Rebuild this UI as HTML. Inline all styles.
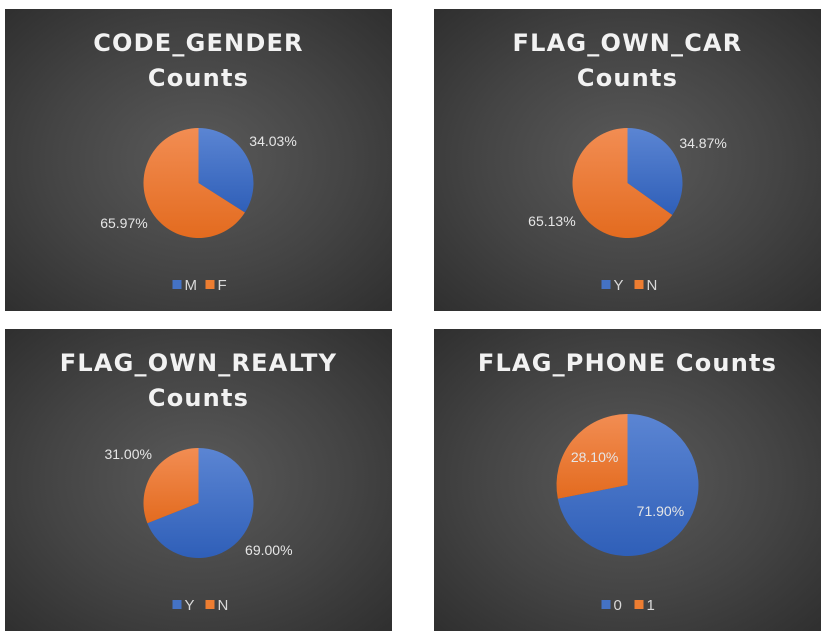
<!DOCTYPE html>
<html><head><meta charset="utf-8">
<style>
body{margin:0;width:826px;height:636px;background:#fff;position:relative;overflow:hidden;font-family:"Liberation Sans",sans-serif}
.panel{position:absolute;width:387px;height:302px;background:radial-gradient(ellipse at 50% 50%,#5a5a5a 0%,#444 55%,#2f2f2f 100%)}
svg{position:absolute;left:0;top:0}
</style></head><body>
<div class="panel" style="left:5px;top:9px"></div>
<div class="panel" style="left:434px;top:9px"></div>
<div class="panel" style="left:5px;top:329px"></div>
<div class="panel" style="left:434px;top:329px"></div>
<svg id="s" width="826" height="636">
<defs>
<linearGradient id="gb" x1="0" y1="0" x2="0" y2="1"><stop offset="0" stop-color="#5b85d3"/><stop offset="1" stop-color="#2f5fb8"/></linearGradient>
<linearGradient id="go" x1="0" y1="0" x2="0" y2="1"><stop offset="0" stop-color="#f28d53"/><stop offset="1" stop-color="#e36b1f"/></linearGradient>
</defs>
</svg>
<script>
const titles=[["CODE_GENDER","Counts"],["FLAG_OWN_CAR","Counts"],["FLAG_OWN_REALTY","Counts"],["FLAG_PHONE Counts"]];
const categories=[["M","F"],["Y","N"],["Y","N"],["0","1"]];
const values=[[34.03,65.97],[34.87,65.13],[69.00,31.00],[71.90,28.10]];
const valueLabels=[["34.03%","65.97%"],["34.87%","65.13%"],["69.00%","31.00%"],["71.90%","28.10%"]];
const layout=[{x:5,y:9,r:55,cy:174,inside:false},{x:434,y:9,r:55,cy:174,inside:false},{x:5,y:329,r:55,cy:174,inside:false},{x:434,y:329,r:71,cy:156,inside:true}];
const fills=["url(#gb)","url(#go)"],legCols=["#4472c4","#ed7d31"];
const s=document.getElementById('s'),NS="http://www.w3.org/2000/svg";
function mk(t,a,p){const e=document.createElementNS(NS,t);for(const k in a)e.setAttribute(k,a[k]);(p||s).appendChild(e);return e;}
layout.forEach((L,i)=>{
  const cx=L.x+193.5,cy=L.y+L.cy,r=L.r;
  const g=mk('g',{});
  
  
  titles[i].forEach((t,j)=>{const e=mk('text',{x:cx,y:L.y+42+j*35,'text-anchor':'middle',fill:'#f2f2f2','font-size':'24','font-weight':'bold','letter-spacing':'1.2',style:'font-family:"DejaVu Sans","Liberation Sans",sans-serif'},g);e.textContent=t;
    
    });
  const tot=values[i].reduce((a,b)=>a+b,0);let acc=0;
  values[i].forEach((v,k)=>{
    const a0=acc/tot*2*Math.PI,a1=(acc+v)/tot*2*Math.PI;acc+=v;
    const x0=cx+r*Math.sin(a0),y0=cy-r*Math.cos(a0),x1=cx+r*Math.sin(a1),y1=cy-r*Math.cos(a1);
    const p=mk('path',{d:`M${cx},${cy}L${x0},${y0}A${r},${r} 0 ${a1-a0>Math.PI?1:0} 1 ${x1},${y1}Z`,fill:fills[k]},g);
    
    
    const am=(a0+a1)/2,rr=L.inside?r*0.6:r+30;
    const t=mk('text',{x:cx+rr*Math.sin(am),y:cy-rr*Math.cos(am)+4,'text-anchor':'middle',fill:'#e6e6e6','font-size':'14'},g);
    t.textContent=valueLabels[i][k];
    
    
  });
  const ly=L.y+281;let lx=cx-26;
  categories[i].forEach((c,k)=>{
    const sq=mk('rect',{x:lx,y:ly-10,width:9,height:9,fill:legCols[k]},g);
    
    
    const t=mk('text',{x:lx+12,y:ly,fill:'#d9d9d9','font-size':'15'},g);t.textContent=c;
    
    
    lx+=33;
  });
});
</script>
</body></html>
